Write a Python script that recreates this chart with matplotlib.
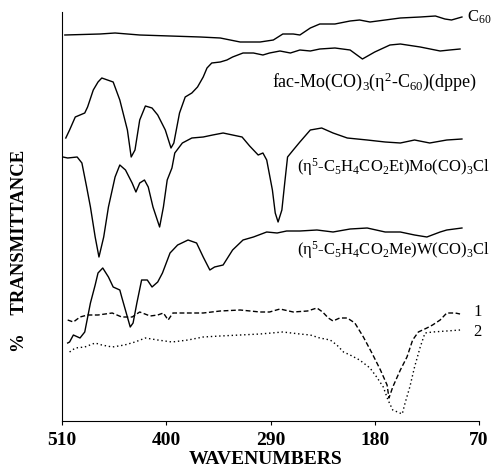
import matplotlib
matplotlib.use("Agg")
import matplotlib.pyplot as plt

# far-IR spectra, transmittance in arbitrary offset units
c60_wn = [507, 470, 454, 428, 396, 364, 343, 322, 301, 287, 277, 266, 259, 248, 238, 222, 206, 196, 185, 169, 153, 132, 116, 106, 99, 88]
c60_t = [386, 387, 388, 386, 385, 384, 383, 379, 379, 381, 387, 387, 386, 393, 397, 397, 400, 401, 399, 401, 403, 404, 405, 402, 401, 404]

fac_wn = [506, 502, 496, 491, 486, 483, 477, 472, 468, 456, 449, 441, 437, 433, 428, 422, 415, 409, 401, 395, 392, 386, 380, 373, 367, 361,
          357, 352, 343, 336, 330, 319, 308, 298, 291, 280, 269, 259, 248, 238, 222, 206, 193, 180, 164, 153, 132, 111, 101, 90]
fac_t = [283, 291, 304, 306, 308, 314, 331, 339, 343, 339, 321, 291, 264, 271, 301, 315, 313, 306, 291, 273, 278, 308, 324, 328, 334, 344,
         353, 358, 359, 361, 364, 368, 368, 366, 368, 370, 368, 371, 370, 372, 373, 371, 362, 369, 376, 377, 374, 370, 371, 372]

et_wn = [509, 504, 494, 489, 484, 480, 475, 471, 466, 461, 454, 449, 443, 436, 432, 428, 423, 419, 414, 407, 403, 399, 394, 391, 383, 373,
         361, 351, 340, 330, 320, 312, 303, 298, 294, 288, 285, 282, 278, 275, 272, 266, 259, 248, 236, 224, 209, 188, 169, 153, 138, 122, 104, 88]
et_t = [264, 263, 264, 258, 234, 214, 184, 164, 184, 214, 244, 256, 251, 238, 229, 238, 241, 234, 214, 194, 214, 241, 253, 268, 278, 283,
        284, 286, 288, 286, 284, 275, 266, 268, 261, 231, 208, 199, 211, 238, 264, 271, 279, 291, 293, 288, 283, 281, 279, 278, 281, 278, 281, 282]

me_wn = [504, 502, 498, 491, 486, 480, 475, 472, 467, 461, 456, 449, 447, 441, 438, 435, 431, 426, 420, 415, 409, 404, 396, 388, 377, 368,
         361, 354, 349, 340, 330, 319, 308, 294, 283, 273, 259, 241, 224, 206, 188, 169, 153, 138, 125, 111, 104, 88]
me_t = [78, 79, 86, 83, 89, 118, 136, 148, 153, 144, 134, 131, 124, 104, 94, 98, 118, 141, 141, 134, 139, 148, 168, 176, 181, 178,
        164, 151, 154, 156, 171, 181, 184, 189, 188, 190, 190, 191, 189, 192, 193, 189, 189, 186, 184, 189, 191, 193]

s1_wn = [504, 498, 491, 483, 472, 457, 447, 436, 428, 417, 409, 403, 398, 393, 377, 361, 343, 322, 301, 291, 280, 266, 251, 241, 235, 229,
         224, 217, 209, 201, 192, 183, 174, 167, 165, 161, 153, 146, 140, 134, 125, 119, 111, 104, 95, 90]
s1_t = [101, 99, 104, 106, 106, 108, 104, 104, 109, 105, 106, 108, 101, 108, 108, 108, 110, 111, 109, 109, 112, 109, 110, 113, 109, 103,
        100, 103, 103, 98, 84, 68, 51, 36, 23, 34, 51, 64, 81, 89, 93, 96, 101, 108, 108, 107]

s2_wn = [502, 496, 486, 475, 468, 457, 444, 433, 422, 409, 394, 377, 361, 343, 322, 301, 277, 259, 248, 238, 227, 220, 213, 206, 196, 185,
         178, 171, 166, 161, 151, 148, 143, 138, 132, 127, 119, 104, 90]
s2_t = [69, 73, 74, 78, 76, 74, 76, 79, 83, 81, 79, 81, 84, 85, 86, 87, 89, 87, 86, 83, 81, 76, 69, 66, 61, 53,
        44, 34, 21, 11, 7, 18, 34, 54, 74, 88, 89, 90, 91]

xticks = [510, 400, 290, 180, 70]

plt.rcParams['font.family'] = ['Liberation Serif', 'DejaVu Serif']
plt.rcParams['mathtext.fontset'] = 'custom'
plt.rcParams['mathtext.rm'] = 'Liberation Serif'
plt.rcParams['mathtext.it'] = 'Liberation Serif:italic'

fig = plt.figure(figsize=(4.93, 4.75), dpi=100)
ax = fig.add_axes([62 / 493, 54 / 475, 417 / 493, 409 / 475])

ax.plot(c60_wn, c60_t, color='k', lw=1.0)
ax.plot(fac_wn, fac_t, color='k', lw=1.0)
ax.plot(et_wn, et_t, color='k', lw=1.0)
ax.plot(me_wn, me_t, color='k', lw=1.0)
ax.plot(s1_wn, s1_t, color='k', lw=1.0, dashes=(3.5, 1.8))
ax.plot(s2_wn, s2_t, color='k', lw=1.0, dashes=(1, 2))

ax.set_xlim(510, 70)
ax.set_ylim(0, 409)
ax.set_xticks(xticks)
ax.set_xticklabels([str(v) for v in xticks], fontsize=14, fontweight='bold')
ax.set_yticks([])
ax.tick_params(axis='x', direction='out', length=3, width=0.8, pad=5)
for s in ['top', 'right']:
    ax.spines[s].set_visible(False)

lab = dict(fontsize=12, color='k', va='center', ha='left', clip_on=False)
ax.text(83, 404, r"C$_{60}$", **lab)
ax.text(288, 339, r"fac-Mo(CO)$_3$(η$^2$-C$_{60}$)(dppe)", **{**lab, 'fontsize': 13})
ax.text(262, 254, r"(η$^5$-C$_5$H$_4$CO$_2$Et)Mo(CO)$_3$Cl", **lab)
ax.text(262, 171, r"(η$^5$-C$_5$H$_4$CO$_2$Me)W(CO)$_3$Cl", **lab)
ax.text(76, 109, "1", **lab)
ax.text(76, 89, "2", **lab)

fig.text(20 / 493, 1 - 251 / 475, "%    TRANSMITTANCE", rotation=90, fontsize=13.5,
         fontweight='bold', ha='center', va='center')
fig.text(266 / 493, 1 - 460 / 475, "WAVENUMBERS", fontsize=14, fontweight='bold',
         ha='center', va='center')

fig.savefig("out.png", dpi=100)
